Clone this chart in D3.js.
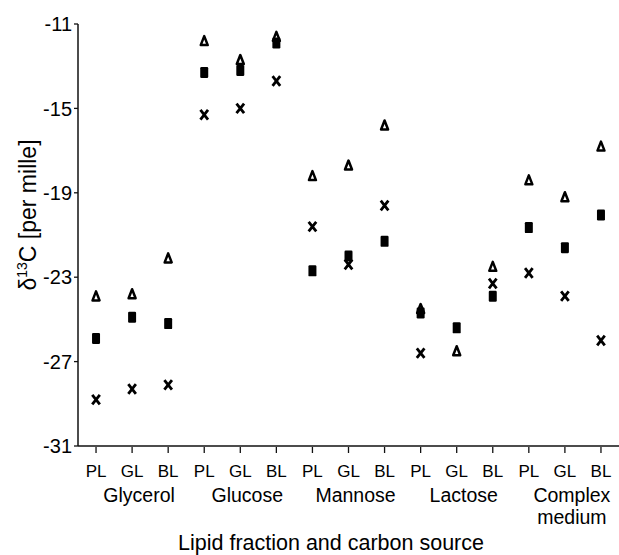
<!DOCTYPE html>
<html>
<head>
<meta charset="utf-8">
<script src="https://cdn.jsdelivr.net/npm/d3@7"></script>
<style>
  body { margin: 0; background: #fff; }
  svg text { font-family: "Liberation Sans", Arial, sans-serif; fill: #000; }
</style>
</head>
<body>
<div id="chart"></div>
<script>
// carbon sources and lipid fractions
const sources   = ["Glycerol", "Glucose", "Mannose", "Lactose", "Complex medium"];
const fractions = ["PL", "GL", "BL"];
const yTicks    = [-11, -15, -19, -23, -27, -31];

// one value per source x fraction, in the order above (null = not shown)
const triangleValues = [-23.9, -23.8, -22.1,  -11.8, -12.7, -11.6,  -18.2, -17.7, -15.8,  -24.5, -26.5, -22.5,  -18.4, -19.2, -16.8];
const squareValues   = [-25.9, -24.9, -25.2,  -13.3, -13.2, -11.9,  -22.7, -22.0, -21.3,  -24.7, -25.4, -23.9,  -20.65, -21.6, -20.05];
const crossValues    = [-28.8, -28.3, -28.1,  -15.3, -15.0, -13.7,  -20.6, -22.4, -19.6,  -26.6, null, -23.3,  -22.8, -23.9, -26.0];

const width  = 619;
const height = 555;
const margin = { top: 24, right: 0, bottom: 109, left: 78 };

const keys = [];
sources.forEach(s => fractions.forEach(f => keys.push(s + "|" + f)));

const x = d3.scaleBand()
  .domain(keys)
  .range([margin.left, width - margin.right]);

const y = d3.scaleLinear()
  .domain([-31, -11])
  .range([height - margin.bottom, margin.top]);

const svg = d3.select("#chart")
  .append("svg")
  .attr("width", width)
  .attr("height", height);

const cx = k => x(k) + x.bandwidth() / 2;

// y axis
svg.append("line")
  .attr("x1", margin.left).attr("x2", margin.left)
  .attr("y1", y(-11)).attr("y2", y(-31))
  .attr("stroke", "#111").attr("stroke-width", 1.5);

yTicks.forEach(t => {
  svg.append("line")
    .attr("x1", margin.left - 4).attr("x2", margin.left)
    .attr("y1", y(t)).attr("y2", y(t))
    .attr("stroke", "#111").attr("stroke-width", 1.3);
  svg.append("text")
    .attr("x", margin.left - 6)
    .attr("y", y(t))
    .attr("dy", "0.36em")
    .attr("text-anchor", "end")
    .style("font-size", "20px")
    .text(t);
});

// x axis
const y0 = y(-31);
svg.append("line")
  .attr("x1", margin.left).attr("x2", width)
  .attr("y1", y0).attr("y2", y0)
  .attr("stroke", "#111").attr("stroke-width", 1.5);

keys.forEach((k, i) => {
  svg.append("line")
    .attr("x1", cx(k)).attr("x2", cx(k))
    .attr("y1", y0 + 1).attr("y2", y0 + 7)
    .attr("stroke", "#111").attr("stroke-width", 1.3);
  svg.append("text")
    .attr("x", cx(k))
    .attr("y", y0 + 31)
    .attr("text-anchor", "middle")
    .style("font-size", "17px")
    .text(fractions[i % 3]);
});

// source names under the middle (GL) tick
sources.forEach(s => {
  const t = svg.append("text")
    .attr("x", cx(s + "|GL") + 7)
    .attr("y", y0 + 56)
    .attr("text-anchor", "middle")
    .style("font-size", "19.5px");
  s.split(" ").forEach((w, j) => {
    t.append("tspan")
      .attr("x", cx(s + "|GL") + 7)
      .attr("dy", j === 0 ? 0 : 22)
      .text(w);
  });
});

// axis titles
svg.append("text")
  .attr("x", 331)
  .attr("y", 550)
  .attr("text-anchor", "middle")
  .style("font-size", "21.5px")
  .text("Lipid fraction and carbon source");

const yl = svg.append("text")
  .attr("transform", "translate(36,215) rotate(-90)")
  .attr("text-anchor", "middle")
  .style("font-size", "23px");
yl.append("tspan").text("δ");
yl.append("tspan").attr("dy", -9).style("font-size", "14px").text("13");
yl.append("tspan").attr("dy", 9).text("C [per mille]");

// markers
const pts = (vals) => keys.map((k, i) => ({ k, v: vals[i] })).filter(d => d.v != null);

svg.append("g").selectAll("path")
  .data(pts(triangleValues))
  .join("path")
  .attr("transform", d => `translate(${cx(d.k)},${y(d.v)})`)
  .attr("d", "M0,-4.8L3.5,4.2L-3.5,4.2Z")
  .attr("fill", "#fff")
  .attr("stroke", "#000")
  .attr("stroke-width", 2.5)
  .attr("stroke-linejoin", "round");

svg.append("g").selectAll("path")
  .data(pts(crossValues))
  .join("path")
  .attr("transform", d => `translate(${cx(d.k)},${y(d.v)})`)
  .attr("d", "M-3.8,-4.8L3.8,4.8M3.8,-4.8L-3.8,4.8")
  .attr("stroke", "#000")
  .attr("stroke-width", 2.8);

svg.append("g").selectAll("rect")
  .data(pts(squareValues))
  .join("rect")
  .attr("x", d => cx(d.k) - 4)
  .attr("y", d => y(d.v) - 5.5)
  .attr("width", 8)
  .attr("height", 11)
  .attr("rx", 1.2)
  .attr("fill", "#000");
</script>
</body>
</html>
